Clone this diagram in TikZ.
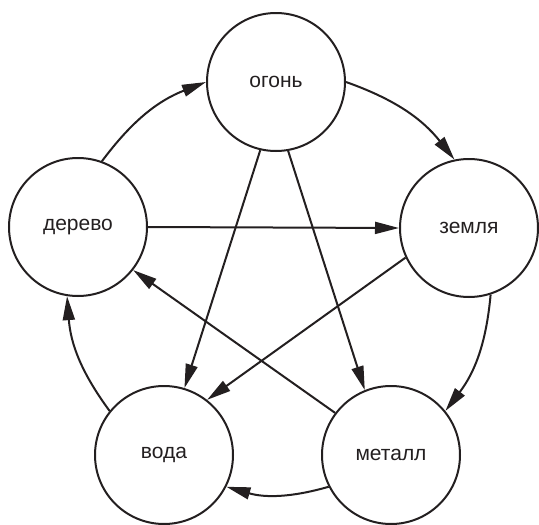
\documentclass[tikz,border=0pt]{standalone}
\usepackage{fontspec}
\setmainfont{Liberation Sans}
\usetikzlibrary{arrows.meta}
\definecolor{ink}{RGB}{35,31,32}
\begin{document}
\begin{tikzpicture}[x=1pt,y=-1pt,
  elem/.style={circle,draw=ink,line width=2pt,minimum size=138pt,inner sep=0pt,
    text=ink,font=\fontsize{21}{25}\selectfont},
  link/.style={draw=ink,line width=2pt,-{Triangle[length=24pt,width=12pt]}},
  every to/.style={bend left=16}]
\useasboundingbox (0,0) rectangle (539,525);
\node[elem] (ogon)   at (276,82)  {огонь};
\node[elem] (derevo) at (78,227)  {дерево};
\node[elem] (zemlya) at (469,228) {земля};
\node[elem] (voda)   at (164,455) {вода};
\node[elem] (metall) at (391,455) {металл};
% cycle
\draw[link] (derevo.70) to (ogon.180);
\draw[link] (ogon.0) to (zemlya.102);
\draw[link] (zemlya.288) to (metall.39);
\draw[link] (metall.207) to (voda.333);
\draw[link] (voda.141) to (derevo.261);
% star
\draw[link] (ogon.257) -- (voda.73);
\draw[link] (ogon.280) -- (metall.112);
\draw[link] (derevo.0) -- (zemlya.180);
\draw[link] (zemlya.205) -- (voda.52);
\draw[link] (metall.143) -- (derevo.322);
\end{tikzpicture}
\end{document}
